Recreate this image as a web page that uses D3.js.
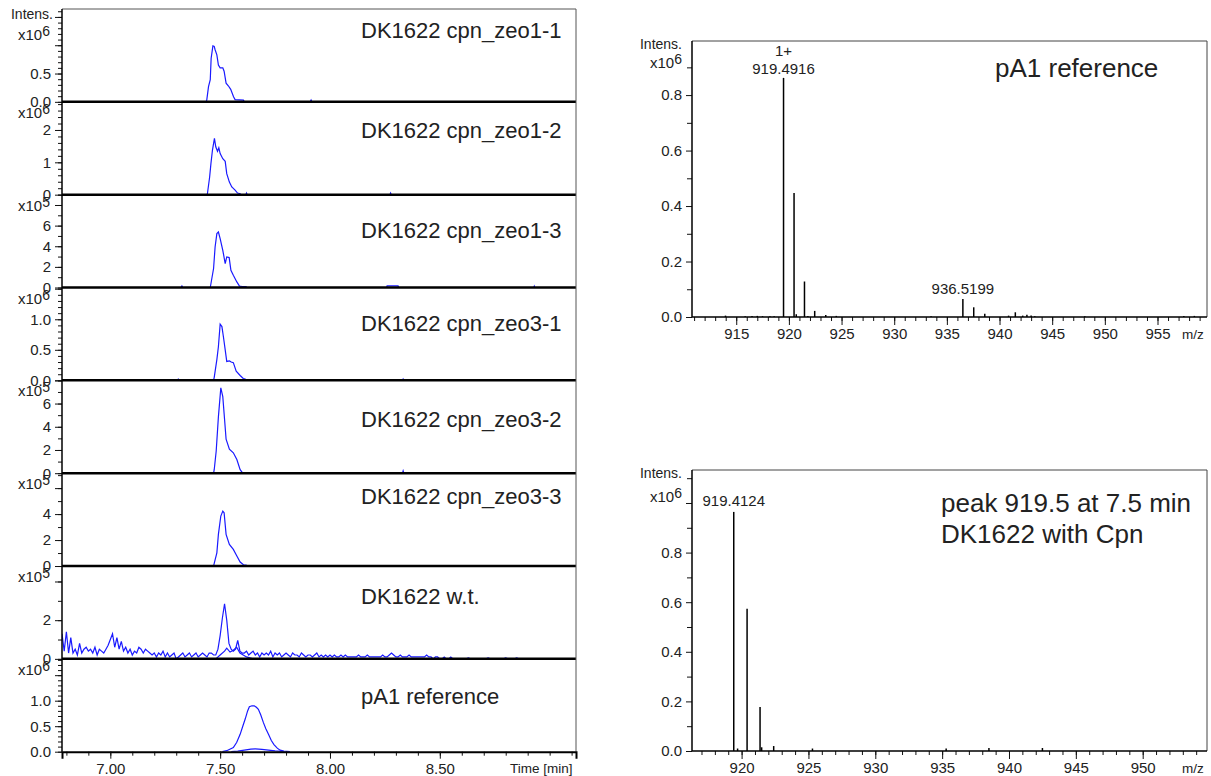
<!DOCTYPE html>
<html>
<head>
<meta charset="utf-8">
<script src="https://cdn.jsdelivr.net/npm/d3@7"></script>
<style>
  body { margin: 0; background: #fff; }
  svg { display: block; font-family: "Liberation Sans", Arial, sans-serif; }
</style>
</head>
<body>
<svg id="chart" width="1211" height="776"></svg>
<script>
// ---- chromatograms (left) ----
const panelNames = [
  "DK1622 cpn_zeo1-1",
  "DK1622 cpn_zeo1-2",
  "DK1622 cpn_zeo1-3",
  "DK1622 cpn_zeo3-1",
  "DK1622 cpn_zeo3-2",
  "DK1622 cpn_zeo3-3",
  "DK1622 w.t.",
  "pA1 reference",
];
const panelExp = [6, 6, 5, 6, 5, 5, 5, 6];
const panelMax = [1.64, 2.87, 9.0, 1.52, 8.0, 7.15, 4.8, 1.82];
const panelTicks = [
  [0, 0.5, 1.0, 1.5],
  [0, 1, 2],
  [0, 2, 4, 6, 8],
  [0, 0.5, 1.0, 1.5],
  [0, 2, 4, 6, 8],
  [0, 2, 4, 6],
  [0, 2, 4],
  [0, 0.5, 1.0, 1.5],
];
const panelMinor = [0.1, 0.2, 1, 0.1, 1, 1, 1, 0.1];
const panelDecimals = [1, 0, 0, 1, 0, 0, 0, 1];
const timeTicks = [7.0, 7.5, 8.0, 8.5];

// [time min, intensity in 10^exp], null = gap
const zeo11 = [[7.436,0],[7.439,0.03],[7.447,0.27],[7.455,0.39],[7.459,0.77],[7.467,0.99],[7.473,0.98],
  [7.477,0.92],[7.485,0.83],[7.492,0.65],[7.5,0.6],[7.512,0.6],[7.518,0.54],[7.527,0.33],[7.538,0.28],
  [7.548,0.22],[7.561,0.09],[7.568,0.04],[7.606,0.03],[7.61,0],
  null,[7.91,0],[7.914,0.03],[7.918,0]];
const zeo12 = [[7.44,0],[7.442,0.03],[7.452,0.54],[7.458,0.96],[7.465,1.38],[7.474,1.74],[7.48,1.48],
  [7.488,1.34],[7.494,1.45],[7.5,1.27],[7.512,1.11],[7.523,1.03],[7.53,0.65],[7.542,0.39],[7.553,0.24],
  [7.568,0.14],[7.579,0.05],[7.591,0.03],[7.595,0],
  null,[7.617,0],[7.62,0.05],[7.623,0],
  null,[8.273,0],[8.276,0.05],[8.279,0]];
const zeo13 = [[7.455,0],[7.47,1.84],[7.477,3.93],[7.485,5.23],[7.492,5.38],[7.5,4.74],[7.512,3.61],
  [7.523,2.32],[7.53,2.96],[7.541,2.9],[7.549,1.67],[7.56,1.19],[7.576,0.54],[7.588,0.13],[7.6,0.1],
  [7.618,0.1],[7.62,0],
  null,[7.322,0],[7.326,0.15],[7.33,0],
  null,[8.258,0],[8.26,0.15],[8.31,0.15],[8.312,0],
  null,[8.928,0],[8.93,0.12],[8.932,0]];
const zeo31 = [[7.47,0],[7.473,0.05],[7.485,0.34],[7.492,0.55],[7.5,0.92],[7.508,0.88],[7.515,0.71],
  [7.523,0.5],[7.53,0.31],[7.542,0.32],[7.55,0.3],[7.56,0.29],[7.573,0.15],[7.591,0.08],[7.605,0.03],
  [7.614,0.02],[7.618,0],
  null,[7.308,0],[7.31,0.03],[7.312,0],
  null,[8.33,0],[8.333,0.02],[8.336,0]];
const zeo32 = [[7.47,0],[7.473,0.3],[7.482,1.91],[7.492,4.85],[7.503,7.35],[7.512,6.6],[7.518,5.15],
  [7.527,2.94],[7.542,2.06],[7.56,1.76],[7.576,1.18],[7.591,0.3],[7.603,0],
  null,[8.33,0],[8.333,0.2],[8.336,0]];
const zeo33 = [[7.47,0],[7.473,0.2],[7.485,1.02],[7.492,2.44],[7.503,3.85],[7.512,4.23],[7.518,4.1],
  [7.527,2.44],[7.542,1.67],[7.56,1.28],[7.576,0.77],[7.591,0.31],[7.606,0.1],[7.621,0.05],[7.625,0]];

// wild type: noisy trace sampled every 0.01 min from 6.78
const wtStart = 6.78, wtStep = 0.01;
const wtNoise = [
  1.3, 0.4, 1.4, 0.3, 1.1, 0.3, 0.5, 0.2, 0.8, 0.3,
  0.5, 0.6, 0.4, 0.5, 0.3, 0.6, 0.2, 0.5, 0.4, 0.3,
  0.5, 0.7, 1.0, 1.3, 0.6, 1.1, 0.5, 0.9, 0.4, 0.6,
  0.3, 0.5, 0.2, 0.4, 0.3, 0.6, 0.5, 0.3, 0.5, 0.4,
  0.3, 0.2, 0.3, 0.1, 0.3, 0.2, 0.4, 0.1, 0.3, 0.1,
  0.2, 0.3, 0.0, 0.1, 0.2, 0.3, 0.1, 0.2, 0.3, 0.1,
  0.2, 0.3, 0.1, 0.2, 0.3, 0.2, 0.1, 0.3, 0.3, 0.2,
  0.2, 0.5, 1.2, 2.1, 2.85, 2.0, 0.8, 0.5, 0.4, 0.5,
  0.95, 0.4, 0.3, 0.3, 0.4, 0.2, 0.3, 0.4, 0.2, 0.3,
  0.1, 0.3, 0.2, 0.3, 0.2, 0.4, 0.1, 0.3, 0.2, 0.3,
  0.1, 0.2, 0.3, 0.2, 0.1, 0.3, 0.2, 0.2, 0.1, 0.3,
  0.2, 0.1, 0.2, 0.2, 0.1, 0.2, 0.3, 0.1, 0.2, 0.1,
  0.2, 0.1, 0.2, 0.1, 0.2, 0.1, 0.1, 0.2, 0.1, 0.2,
  0.1, 0.1, 0.1, 0.1, 0.1, 0.2, 0.1, 0.1, 0.1, 0.2,
  0.1, 0.1, 0.1, 0.1, 0.1, 0.1, 0.2, 0.1, 0.1, 0.2,
  0.3, 0.2, 0.1, 0.1, 0.2, 0.1, 0.1, 0.1, 0.2, 0.1,
  0.1, 0.1, 0.1, 0.1, 0.1, 0.1, 0.2, 0.1, 0.1, 0.0,
  0.1, 0.1, 0.0, 0.0, 0.1, 0.0, 0.0, 0.1, 0.0, 0.0,
  0.0, 0.0, 0.0, 0.0, 0.0, 0.05, 0.0, 0.0, 0.0, 0.0,
  0.0, 0.0, 0.0, 0.0, 0.05, 0.0, 0.0, 0.0, 0.0, 0.0,
  0.0, 0.0, 0.05, 0.0, 0.0, 0.0, 0.0, 0.05, 0.0, 0.0,
];
const wtSecond = [[7.48,0],[7.5,0.2],[7.52,0.4],[7.53,0.55],[7.545,0.35],[7.56,0.45],[7.575,0.6],
  [7.59,0.3],[7.62,0.1],[7.65,0]];
const pA1Main = [[7.51,0],[7.53,0.02],[7.56,0.08],[7.575,0.18],[7.591,0.34],[7.603,0.5],[7.614,0.64],
  [7.625,0.8],[7.633,0.88],[7.645,0.9],[7.655,0.9],[7.665,0.87],[7.674,0.83],[7.685,0.72],[7.697,0.57],
  [7.708,0.45],[7.72,0.34],[7.733,0.22],[7.745,0.14],[7.76,0.07],[7.773,0.03],[7.79,0.01],[7.818,0]];
const pA1Second = [[7.55,0],[7.58,0.01],[7.61,0.03],[7.64,0.05],[7.66,0.055],[7.69,0.045],[7.72,0.03],
  [7.75,0.015],[7.79,0]];

const wtTrace = wtNoise.map((v, i) => [wtStart + i * wtStep, v]);
const panelSeries = [
  [zeo11], [zeo12], [zeo13], [zeo31], [zeo32], [zeo33],
  [wtTrace, wtSecond], [pA1Main, pA1Second],
];

// ---- mass spectra (right), [m/z, intensity x10^6] ----
const refPeaks = [[913.98,0.005],[915.85,0.003],[916.5,0.004],[917.0,0.004],[917.5,0.003],[918.2,0.003],
  [918.6,0.003],[919.4916,0.862],[920.49,0.447],[920.7,0.01],[921.48,0.128],[921.8,0.004],[922.45,0.022],
  [923.5,0.007],[924.5,0.004],[933.5,0.003],[936.5199,0.065],[937.55,0.035],[938.6,0.012],[940.86,0.005],
  [941.5,0.017],[942.2,0.005],[942.6,0.008],[943.0,0.005],[943.35,0.003],[948.1,0.003],[957.5,0.004],
  [958.5,0.004]];
const samplePeaks = [[919.4124,0.964],[919.7,0.01],[920.41,0.574],[921.38,0.177],[921.5,0.015],
  [922.4,0.02],[925.3,0.01],[935.3,0.01],[938.5,0.012],[942.5,0.012]];
const refMzTicks = [915, 920, 925, 930, 935, 940, 945, 950, 955];
const sampleMzTicks = [920, 925, 930, 935, 940, 945, 950];
const intensTicks = [0, 0.2, 0.4, 0.6, 0.8];

const svg = d3.select("#chart");
const ink = "#222";
const blue = "#1a1aff";

function styleAxis(g, size) {
  g.attr("font-family", null).attr("font-size", size);
  g.selectAll("text").attr("fill", ink);
  g.selectAll("line").attr("stroke", "#111");
}

function expLabel(x, y, exp) {
  const t = svg.append("text").attr("x", x).attr("y", y)
    .attr("font-size", 15).attr("fill", ink).text("x10");
  t.append("tspan").attr("dy", -4).attr("font-size", 14).text(exp);
}

// ---- left block ----
const L = { left: 62, right: 576, top: 9, bottom: 751.7 };
const panelH = (L.bottom - L.top) / panelNames.length;
const labelDy = [29, 36, 43, 43, 47, 31, 38, 45];

const xTime = d3.scaleLinear().domain([6.78, 9.12]).range([L.left, L.right]);
const line = d3.line().defined((d) => d !== null)
  .x((d) => xTime(d[0])).y((d) => d.y);

panelNames.forEach((name, i) => {
  const top = L.top + i * panelH, base = top + panelH;
  const y = d3.scaleLinear().domain([0, panelMax[i]]).range([base, top]);
  const g = svg.append("g");

  // minor + major ticks
  const minor = d3.range(0, panelMax[i] + 1e-9, panelMinor[i]);
  g.append("g").attr("transform", `translate(${L.left},0)`)
    .call(d3.axisLeft(y).tickValues(minor).tickSize(4).tickFormat(""))
    .call((a) => a.select(".domain").remove())
    .call((a) => styleAxis(a, 15));
  const gap = i === 0 ? 40 : 20;
  g.append("g").attr("transform", `translate(${L.left},0)`)
    .call(d3.axisLeft(y).tickValues(panelTicks[i].filter((v) => v <= panelMax[i]))
      .tickSize(7).tickPadding(4)
      .tickFormat((v) => (y(v) > top + gap ? v.toFixed(panelDecimals[i]) : "")))
    .call((a) => a.select(".domain").remove())
    .call((a) => styleAxis(a, 15));

  // traces
  const clipId = `clip${i}`;
  svg.append("clipPath").attr("id", clipId).append("rect")
    .attr("x", L.left).attr("y", top).attr("width", L.right - L.left).attr("height", panelH);
  panelSeries[i].forEach((s) => {
    g.append("path")
      .datum(s.map((d) => (d === null ? null : { 0: d[0], y: y(d[1]) })))
      .attr("clip-path", `url(#${clipId})`)
      .attr("fill", "none").attr("stroke", blue).attr("stroke-width", 1.2)
      .attr("d", line);
  });

  // panel separator (bottom)
  if (i < panelNames.length - 1) {
    g.append("line").attr("x1", L.left).attr("x2", L.right)
      .attr("y1", base).attr("y2", base).attr("stroke", "#000").attr("stroke-width", 2.5);
  }

  g.append("text").attr("x", 361).attr("y", top + labelDy[i])
    .attr("font-size", 22).attr("fill", ink).text(name);

  expLabel(18, i === 0 ? top + 31 : top + 16, panelExp[i]);
});

// frame
svg.append("line").attr("x1", L.left).attr("x2", L.right).attr("y1", L.top).attr("y2", L.top)
  .attr("stroke", "#555").attr("stroke-width", 1);
svg.append("line").attr("x1", L.right).attr("x2", L.right).attr("y1", L.top).attr("y2", L.bottom)
  .attr("stroke", "#555").attr("stroke-width", 1);
svg.append("line").attr("x1", L.left).attr("x2", L.left).attr("y1", L.top).attr("y2", L.bottom)
  .attr("stroke", "#000").attr("stroke-width", 1.5);

// time axis
svg.append("g").attr("transform", `translate(0,${L.bottom})`)
  .call(d3.axisBottom(xTime).tickValues(d3.range(6.8, 9.12, 0.1)).tickSize(4).tickFormat(""))
  .call((a) => a.select(".domain").remove())
  .call((a) => styleAxis(a, 15));
svg.append("g").attr("transform", `translate(0,${L.bottom})`)
  .call(d3.axisBottom(xTime).tickValues(timeTicks).tickSize(7).tickPadding(5).tickFormat(d3.format(".2f")))
  .call((a) => a.select(".domain").attr("stroke", "#000").attr("stroke-width", 2))
  .call((a) => styleAxis(a, 15));
svg.append("text").attr("x", 510).attr("y", 773).attr("font-size", 13.5).attr("fill", ink).text("Time [min]");
svg.append("text").attr("x", 53).attr("y", 19).attr("text-anchor", "end")
  .attr("font-size", 14).attr("fill", ink).text("Intens.");

// ---- right block ----
function spectrum(box, mzDomain, yMax, peaks, mzTicks) {
  const x = d3.scaleLinear().domain(mzDomain).range([box.left, box.right]);
  const y = d3.scaleLinear().domain([0, yMax]).range([box.bottom, box.top]);
  const g = svg.append("g");

  g.append("g").attr("transform", `translate(${box.left},0)`)
    .call(d3.axisLeft(y).tickValues(d3.range(0.1, yMax, 0.2)).tickSize(5).tickFormat(""))
    .call((a) => a.select(".domain").remove())
    .call((a) => styleAxis(a, 15));
  g.append("g").attr("transform", `translate(${box.left},0)`)
    .call(d3.axisLeft(y).tickValues(d3.range(0, yMax + 1e-9, 0.2)).tickSize(6).tickPadding(4)
      .tickFormat((v) => (intensTicks.some((t) => Math.abs(t - v) < 1e-6) ? v.toFixed(1) : "")))
    .call((a) => a.select(".domain").remove())
    .call((a) => styleAxis(a, 15));

  const minorMz = d3.range(Math.ceil(mzDomain[0]), mzDomain[1], 1);
  g.append("g").attr("transform", `translate(0,${box.bottom})`)
    .call(d3.axisBottom(x).tickValues(minorMz).tickSize(4).tickFormat(""))
    .call((a) => a.select(".domain").remove())
    .call((a) => styleAxis(a, 15));
  g.append("g").attr("transform", `translate(0,${box.bottom})`)
    .call(d3.axisBottom(x).tickValues(mzTicks).tickSize(8).tickPadding(3).tickFormat(d3.format("d")))
    .call((a) => a.select(".domain").remove())
    .call((a) => styleAxis(a, 15));

  g.selectAll("line.peak").data(peaks).join("line").attr("class", "peak")
    .attr("x1", (d) => x(d[0])).attr("x2", (d) => x(d[0]))
    .attr("y1", y(0)).attr("y2", (d) => y(d[1]))
    .attr("stroke", "#000").attr("stroke-width", 1.5);

  // frame
  g.append("path")
    .attr("d", `M${box.left},${box.top}H${box.right}V${box.bottom}`)
    .attr("fill", "none").attr("stroke", "#444").attr("stroke-width", 1);
  g.append("path")
    .attr("d", `M${box.left},${box.top}V${box.bottom}H${box.right}`)
    .attr("fill", "none").attr("stroke", "#000").attr("stroke-width", 1.5);

  g.append("text").attr("x", box.left - 10).attr("y", box.top + 8).attr("text-anchor", "end")
    .attr("font-size", 14).attr("fill", ink).text("Intens.");
  g.append("text").attr("x", box.right - 25).attr("y", box.bottom + 22)
    .attr("font-size", 13.5).attr("fill", ink).text("m/z");
  return { x, y };
}

const topBox = { left: 692, right: 1207, top: 41, bottom: 317 };
const ref = spectrum(topBox, [910.8, 959.7], 0.995, refPeaks, refMzTicks);
expLabel(650, 68, 6);
svg.append("text").attr("x", ref.x(919.4916)).attr("y", 56).attr("text-anchor", "middle")
  .attr("font-size", 15).attr("fill", ink).text("1+");
svg.append("text").attr("x", ref.x(919.4916)).attr("y", 74).attr("text-anchor", "middle")
  .attr("font-size", 15).attr("fill", ink).text("919.4916");
svg.append("text").attr("x", ref.x(936.5199)).attr("y", 294).attr("text-anchor", "middle")
  .attr("font-size", 15).attr("fill", ink).text("936.5199");
svg.append("text").attr("x", 995).attr("y", 77)
  .attr("font-size", 26).attr("fill", ink).text("pA1 reference");

const botBox = { left: 692, right: 1207, top: 470, bottom: 751 };
const smp = spectrum(botBox, [916.29, 954.81], 1.133, samplePeaks, sampleMzTicks);
expLabel(650, 502, 6);
svg.append("text").attr("x", smp.x(919.4124)).attr("y", 506).attr("text-anchor", "middle")
  .attr("font-size", 15).attr("fill", ink).text("919.4124");
svg.append("text").attr("x", 941).attr("y", 512)
  .attr("font-size", 26).attr("fill", ink).text("peak 919.5 at 7.5 min");
svg.append("text").attr("x", 941).attr("y", 543)
  .attr("font-size", 26).attr("fill", ink).text("DK1622 with Cpn");
</script>
</body>
</html>
